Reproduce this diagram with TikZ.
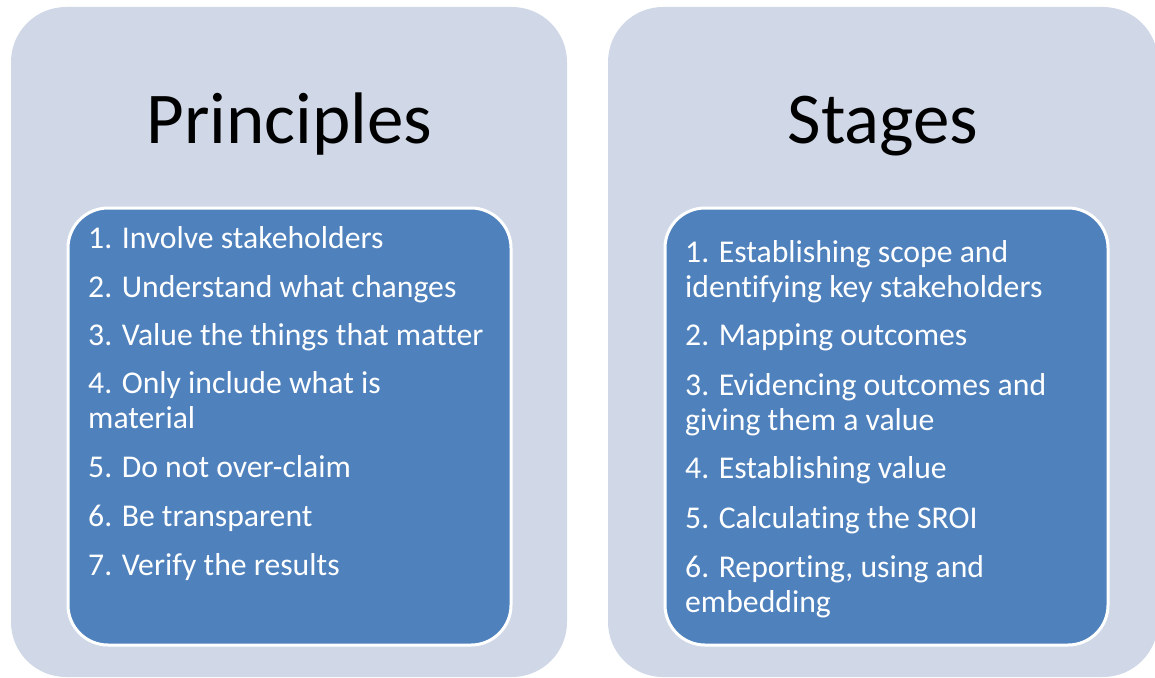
\documentclass[tikz,border=0pt]{standalone}
\usepackage{fontspec}
\setmainfont{Carlito}[Ligatures=NoCommon]
\definecolor{cajaclara}{HTML}{D0D8E8}
\definecolor{cajaazul}{HTML}{4F81BD}
\newcommand{\lineas}[1]{\begin{tabular}[t]{@{}l@{}}#1\end{tabular}}

\begin{document}
\begin{tikzpicture}[x=1pt,y=-1pt,
	caja/.style={fill=cajaclara, rounded corners=55pt},
	lista/.style={draw=white, line width=3pt, fill=cajaazul, rounded corners=40pt},
	titulo/.style={anchor=base, inner sep=0pt, font=\fontsize{73}{80}\selectfont},
	punto/.style={anchor=base west, inner sep=0pt, text=white, font=\fontsize{31.7}{35}\selectfont}]
	\useasboundingbox (0,0) rectangle (1155,677);

	% Principios
	\fill [caja] (11,7) rectangle (567,677);
	\draw [lista] (68,208) rectangle (511,645);
	\node [titulo] (principios) at (289.5,143) {Principles};
	\node [punto] (p1) at (88,248) {1. Involve stakeholders};
	\node [punto] (p2) at (88,297) {2. Understand what changes};
	\node [punto] (p3) at (88,345) {3. Value the things that matter};
	\node [punto] (p4) at (88,393) {\lineas{4. Only include what is\\material}};
	\node [punto] (p5) at (88,477) {5. Do not over-claim};
	\node [punto] (p6) at (88,526) {6. Be transparent};
	\node [punto] (p7) at (88,575) {7. Verify the results};

	% Etapas
	\fill [caja] (608,7) rectangle (1158,677);
	\draw [lista] (665,208) rectangle (1108,645);
	\node [titulo] (etapas) at (883,143) {Stages};
	\node [punto] (e1) at (685,262) {\lineas{1. Establishing scope and\\identifying key stakeholders}};
	\node [punto] (e2) at (685,345) {2. Mapping outcomes};
	\node [punto] (e3) at (685,395) {\lineas{3. Evidencing outcomes and\\giving them a value}};
	\node [punto] (e4) at (685,478) {4. Establishing value};
	\node [punto] (e5) at (685,528) {5. Calculating the SROI};
	\node [punto] (e6) at (685,577) {\lineas{6. Reporting, using and\\embedding}};
\end{tikzpicture}
\end{document}
